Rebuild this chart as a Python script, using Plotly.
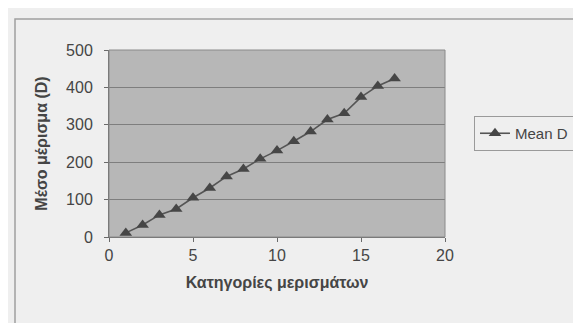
import plotly.graph_objects as go

categories = list(range(1, 18))
mean_d = [11, 32, 59, 75, 105, 131, 162, 182, 209, 231, 256, 282, 314, 331, 374, 404, 424]

x_ticks = [0, 5, 10, 15, 20]
y_ticks = [0, 100, 200, 300, 400, 500]

W, H = 581, 323
L, R, T, B = 101, 437, 42, 229  # plot area pixels
pw, ph = R - L, B - T

def px(x):
    return (x - L) / pw

def py(y):
    return (B - y) / ph

fig = go.Figure()
fig.add_trace(go.Scatter(
    x=categories, y=mean_d, mode="lines+markers", name="Mean D",
    line=dict(color="#555555", width=1.6),
    marker=dict(symbol="triangle-up", size=11, color="#464646"),
))

fig.update_layout(
    width=W, height=H,
    margin=dict(l=L, r=W - R, t=T, b=H - B),
    paper_bgcolor="#efefef",
    plot_bgcolor="#b7b7b7",
    font=dict(family="Liberation Sans, Arial, sans-serif", color="#454545", size=16),
    showlegend=True,
    legend=dict(x=px(466), y=py(108), xanchor="left", yanchor="top",
                bgcolor="#efefef", bordercolor="#9a9a9a", borderwidth=1,
                font=dict(size=15, color="#454545"), itemwidth=30),
    xaxis=dict(range=[0, 20], tickvals=x_ticks, showgrid=False, zeroline=False,
               showline=True, linecolor="#6a6a6a", linewidth=1,
               ticks="outside", ticklen=4, tickcolor="#6a6a6a",
               tickfont=dict(size=16),
               title=dict(text="<b>Κατηγορίες μερισμάτων</b>", font=dict(size=16, color="#454545"), standoff=13)),
    yaxis=dict(range=[0, 500], tickvals=y_ticks, showgrid=True, gridcolor="#7e7e7e", gridwidth=1,
               zeroline=False, showline=True, linecolor="#6a6a6a", linewidth=1,
               ticks="outside", ticklen=4, tickcolor="#6a6a6a",
               tickfont=dict(size=16), ticklabelstandoff=8,
               title=dict(text="<b>Μέσο μέρισμα (D)</b>", font=dict(size=16, color="#454545"), standoff=14)),
    shapes=[
        dict(type="rect", xref="paper", yref="paper",
             x0=px(7), x1=px(579), y0=py(316), y1=py(11),
             line=dict(color="#a0a0a0", width=1.5), layer="below"),
        dict(type="rect", xref="paper", yref="paper",
             x0=0, x1=1, y0=0, y1=1,
             line=dict(color="#8a8a8a", width=1)),
    ],
)

fig.write_html("out.html")
